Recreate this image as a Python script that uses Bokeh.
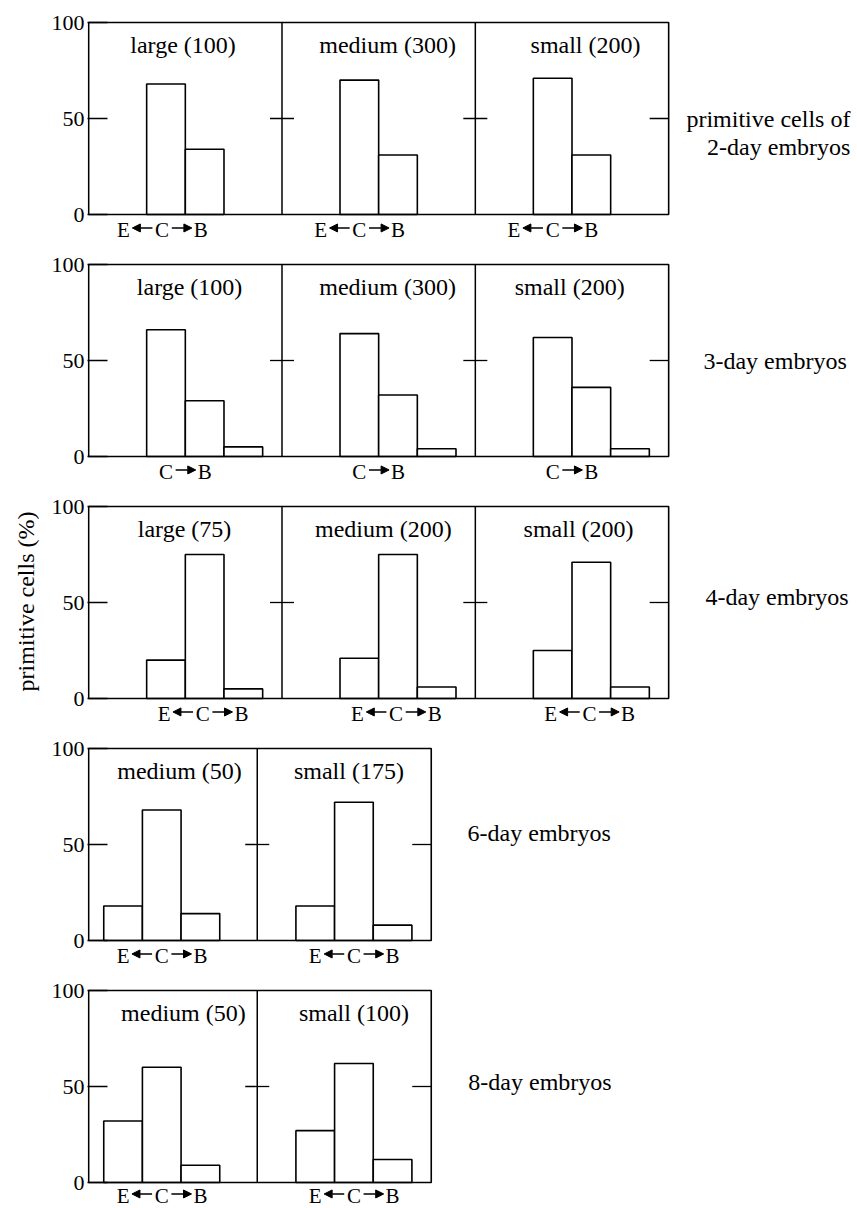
from bokeh.plotting import figure
from bokeh.layouts import column
from bokeh.models import ColumnDataSource, FixedTicker, Range1d, Title, Arrow, NormalHead
from bokeh.core.properties import value
from bokeh.embed import file_html
from bokeh.resources import INLINE

FONT = "Liberation Serif"

# ---------------- data (percent of primitive cells) ----------------
groups_2d = ["large (100)", "medium (300)", "small (200)"]
vals_2d = [[0, 68, 34], [0, 70, 31], [0, 71, 31]]          # E, C, B
xlab_2d = ["E", "\u2190", "C", "\u2192", "B"]

groups_3d = ["large (100)", "medium (300)", "small (200)"]
vals_3d = [[66, 29, 5], [64, 32, 4], [62, 36, 4]]          # C, B, beyond B
xlab_3d = ["C", "\u2192", "B"]

groups_4d = ["large (75)", "medium (200)", "small (200)"]
vals_4d = [[20, 75, 5], [21, 75, 6], [25, 71, 6]]          # E, C, B
xlab_4d = ["E", "\u2190", "C", "\u2192", "B"]

groups_6d = ["medium (50)", "small (175)"]
vals_6d = [[18, 68, 14], [18, 72, 8]]                      # E, C, B

groups_8d = ["medium (50)", "small (100)"]
vals_8d = [[32, 60, 9], [27, 62, 12]]                      # E, C, B
xlab_68 = ["E", "\u2190", "C", "\u2192", "B"]

row_texts = [["primitive cells of", "2-day embryos"], ["3-day embryos"], ["4-day embryos"],
             ["6-day embryos"], ["8-day embryos"]]
y_title = "primitive cells (%)"

# ---------------- layout ----------------
UNIT = 38.667          # px per bar width
PXU = 1.92             # px per percent
LEFT = 87
FIG_W = 857
FRAME_W = FIG_W - LEFT
X0 = -0.03


def build_row(groups, vals, edges, bar_first, title_x, xlab, xlab_first,
              texts, text_x, text_y, text_align, top, bottom, lab_dy=15, ytitle=None):
    height = top + 192 + bottom
    p = figure(width=FIG_W, height=height,
               x_range=Range1d(X0, X0 + FRAME_W / UNIT),
               y_range=Range1d(-bottom / PXU, 100 + top / PXU),
               output_backend="svg", toolbar_location=None, title=None,
               min_border_left=LEFT, min_border_right=0,
               min_border_top=0, min_border_bottom=0,
               background_fill_color="white", border_fill_color="white")
    p.xaxis.visible = False
    p.xgrid.visible = False
    p.ygrid.visible = False
    p.outline_line_color = None
    ax = p.yaxis[0]
    ax.ticker = FixedTicker(ticks=[0, 50, 100])
    ax.major_tick_in = 20
    ax.major_tick_out = 0
    ax.minor_tick_line_color = None
    ax.axis_line_color = None
    ax.major_tick_line_color = "black"
    ax.major_tick_line_width = 1.3
    ax.major_label_text_font = FONT
    ax.major_label_text_font_size = "22px"
    ax.major_label_text_color = "black"
    ax.major_label_standoff = 3

    # bars
    xs, tops = [], []
    for pi, v in enumerate(vals):
        for k, h in enumerate(v):
            if h > 0:
                xs.append(edges[pi] + bar_first[pi] + k)
                tops.append(h)
    src = ColumnDataSource(dict(x=xs, top=tops))
    p.vbar(x="x", top="top", bottom=0, width=1.0, source=src,
           fill_color="white", line_color="black", line_width=1.6)

    # panel box, dividers and the 50 tick marks
    p.quad(left=[edges[0]], right=[edges[-1]], bottom=[0], top=[100],
           fill_color=None, line_color="black", line_width=1.6)
    tlen = 12 / UNIT
    for d in edges[1:-1]:
        p.segment(x0=[d], y0=[0], x1=[d], y1=[100], line_color="black", line_width=1.5)
        p.segment(x0=[d - tlen], y0=[50], x1=[d + tlen], y1=[50], line_color="black", line_width=1.3)
    p.segment(x0=[edges[-1] - 19 / UNIT], y0=[50], x1=[edges[-1]], y1=[50],
              line_color="black", line_width=1.3)

    # panel titles
    tsrc = ColumnDataSource(dict(x=title_x, y=[100 - 22 / PXU] * len(groups), t=groups))
    p.text(x="x", y="y", text="t", source=tsrc, text_font=value(FONT),
           text_font_size="24px", text_align="center", text_baseline="middle",
           text_color="black")

    # x labels under each panel: letters as text, arrows as arrow annotations
    ylab = -lab_dy / PXU
    lx, lt, ax0, ax1 = [], [], [], []
    for pi in range(len(groups)):
        for j, t in enumerate(xlab):
            pos = edges[pi] + xlab_first[pi] + 0.5 * j
            if t == "\u2190":
                ax0.append(pos + 0.25); ax1.append(pos - 0.27)
            elif t == "\u2192":
                ax0.append(pos - 0.25); ax1.append(pos + 0.27)
            else:
                lx.append(pos); lt.append(t)
    lsrc = ColumnDataSource(dict(x=lx, y=[ylab] * len(lx), t=lt))
    p.text(x="x", y="y", text="t", source=lsrc, text_font=value(FONT),
           text_font_size="21px", text_align="center", text_baseline="middle",
           text_color="black")
    asrc = ColumnDataSource(dict(x0=ax0, x1=ax1, y=[ylab + 0.8] * len(ax0)))
    p.add_layout(Arrow(end=NormalHead(size=8, fill_color="black", line_color="black",
                                      line_width=1),
                       x_start="x0", y_start="y", x_end="x1", y_end="y",
                       source=asrc, line_color="black", line_width=1.4))

    # right-hand row caption
    rsrc = ColumnDataSource(dict(x=[text_x] * len(texts),
                                 y=[text_y - i * 28 / PXU for i in range(len(texts))],
                                 t=texts))
    p.text(x="x", y="y", text="t", source=rsrc, text_font=value(FONT),
           text_font_size="24px", text_align=text_align, text_baseline="middle",
           text_color="black")

    if ytitle:
        p.add_layout(Title(text=ytitle, align="right", offset=19, standoff=20,
                           text_font=FONT, text_font_size="24px",
                           text_font_style="normal", text_color="black"), "left")
    return p


edges3 = [0, 5, 10, 15]
edges2 = [0, 4.36, 8.86]

r1 = build_row(groups_2d, vals_2d, edges3, [1, 1, 1], [2.44, 7.73, 12.85],
               xlab_2d, [0.9, 1, 1], row_texts[0], 19.70, 50, "right", 22, 36)
r2 = build_row(groups_3d, vals_3d, edges3, [2, 2, 2], [2.61, 7.73, 12.44],
               xlab_3d, [2, 2, 2], row_texts[1], 15.90, 50, "left", 14, 36)
r3 = build_row(groups_4d, vals_4d, edges3, [2, 2, 2], [2.48, 7.62, 12.67],
               xlab_4d, [1.95, 1.95, 1.95], row_texts[2], 15.95, 53, "left", 14, 36,
               ytitle=y_title)
r4 = build_row(groups_6d, vals_6d, edges2, [0.89, 1.5], [2.35, 6.73],
               xlab_68, [0.89, 1.5], row_texts[3], 9.80, 56, "left", 14, 36)
r5 = build_row(groups_8d, vals_8d, edges2, [0.89, 1.5], [2.45, 6.86],
               xlab_68, [0.89, 1.5], row_texts[4], 9.82, 52.5, "left", 14, 26, lab_dy=13)

layout = column(r1, r2, r3, r4, r5, spacing=0)
open("out.html", "w").write(file_html(layout, INLINE))
